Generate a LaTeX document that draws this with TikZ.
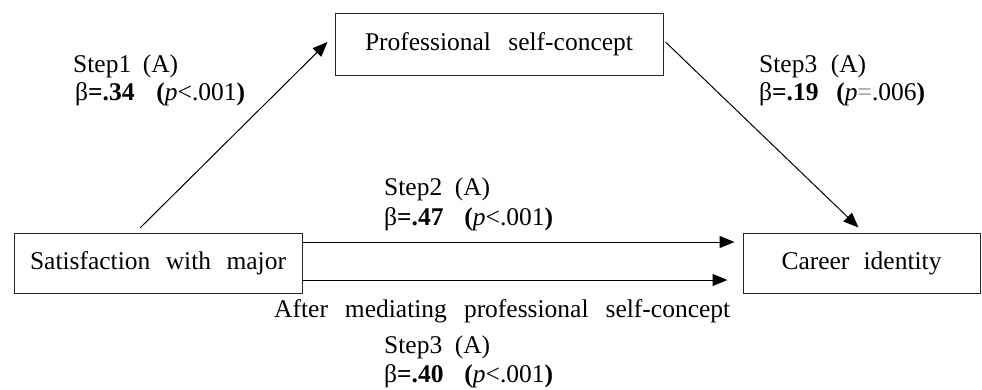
\documentclass[tikz,border=0pt]{standalone}
\usepackage{fontspec}
\setmainfont{Liberation Serif}
\usetikzlibrary{arrows.meta}
\tikzset{
  box/.style={draw=black!85, line width=1pt, inner sep=0pt, font=\fontsize{25.5}{30}\selectfont},
  lab/.style={anchor=base west, inner sep=0pt, font=\fontsize{25.5}{30}\selectfont},
  conn/.style={line width=1pt, -{Triangle[length=15pt,width=12pt]}}
}
\begin{document}
\begin{tikzpicture}[x=1pt,y=-1pt]
\useasboundingbox (0,0) rectangle (982,389);
% boxes
\node[box, minimum width=288pt, minimum height=60pt] (sat) at (158,263) {\makebox[256pt][s]{Satisfaction with major}};
\node[box, minimum width=328pt, minimum height=62pt] (prof) at (499,44) {\makebox[268pt][s]{Professional self-concept}};
\node[box, minimum width=237pt, minimum height=60pt] (car) at (861.5,263) {\makebox[160pt][s]{Career identity}};
% connectors
\coordinate (s1) at (140,228);
\draw[conn] (s1) -- ([xshift=-7pt,yshift=2pt]prof.west);
\draw[conn] ([xshift=2pt,yshift=2pt]prof.east) -- ([xshift=-3pt,yshift=5pt]car.north);
\draw[conn] ([yshift=21pt]sat.east) -- ([xshift=-8pt,yshift=21pt]car.west);
\draw[conn] ([yshift=-17pt]sat.east) -- ([xshift=-15pt,yshift=-17pt]car.west);
% labels
\node[lab] (l1a) at (73,72) {\makebox[105pt][s]{Step1 (A)}};
\node[lab] (l1b) at (75,100) {\makebox[170pt][s]{β\textbf{=.34} \textbf{(}\textit{p}<.001\textbf{)}}};
\node[lab] (l3a) at (759,72) {\makebox[107pt][s]{Step3 (A)}};
\node[lab] (l3b) at (759,100) {\makebox[166pt][s]{β\textbf{=.19} \textbf{(}\textit{p}\textcolor{black!45}{=}.006\textbf{)}}};
\node[lab] (l2a) at (384,195) {\makebox[106pt][s]{Step2 (A)}};
\node[lab] (l2b) at (384,225) {\makebox[169pt][s]{β\textbf{=.47} \textbf{(}\textit{p}<.001\textbf{)}}};
\node[lab] (lam) at (274,317) {\makebox[456pt][s]{After mediating professional self-concept}};
\node[lab] (l4a) at (384,353) {\makebox[106pt][s]{Step3 (A)}};
\node[lab] (l4b) at (384,382) {\makebox[169pt][s]{β\textbf{=.40} \textbf{(}\textit{p}<.001\textbf{)}}};
\end{tikzpicture}
\end{document}
